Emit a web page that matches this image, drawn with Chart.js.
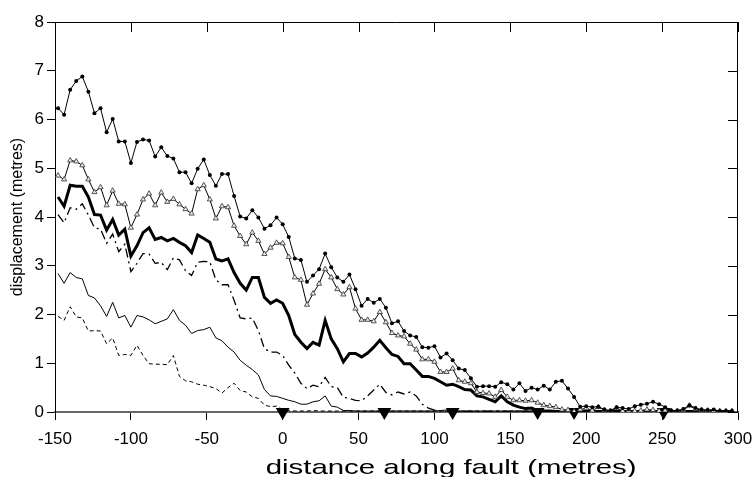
<!DOCTYPE html>
<html>
<head>
<meta charset="utf-8">
<script src="https://cdn.jsdelivr.net/npm/chart.js@4.4.1/dist/chart.umd.min.js"></script>
<style>
  html,body{margin:0;padding:0;background:#fff;}
  #c{display:block;}
</style>
</head>
<body>
<canvas id="c" width="752" height="477"></canvas>
<script>
// distance along fault (m), one sample every ~4 m
const distance = [
  -148,-144,-140,-136,-132,-128,-124,-120,-116,-112,-108,-104,-100,-96,-92,-88,-84,-80,-76,
  -72,-68,-64,-60,-56,-52,-48,-44,-40,-36,-32,-28,-24,-20,-16,-12,-8,-4,
  0,4,8,12,16,20,24,28,32,36,40,44,48,52,56,60,64,68,
  72,76,80,84,88,92,96,100,104,108,112,116,120,124,128,132,136,140,
  144,148,152,156,160,164,168,172,176,180,184,188,192,196,200,204,208,212,216,
  220,224,228,232,236,240,244,248,252,256,260,264,268,272,276,280,284,288,292,296
];

// displacement (m)
const dots = [
  6.23,6.10,6.61,6.79,6.88,6.57,6.13,6.23,5.74,6.01,5.55,5.55,5.11,5.54,5.59,5.57,5.24,5.43,5.25,
  5.20,4.92,4.92,4.69,4.99,5.18,4.86,4.64,4.88,4.88,4.43,4.01,3.97,4.14,3.99,3.76,3.83,3.99,
  3.85,3.59,3.15,3.12,2.67,2.80,2.93,3.25,2.97,2.76,2.67,2.82,2.52,2.18,2.32,2.24,2.32,2.14,
  1.82,1.86,1.66,1.57,1.54,1.33,1.32,1.35,1.12,1.20,1.06,0.89,0.86,0.69,0.52,0.53,0.53,0.52,
  0.61,0.57,0.46,0.59,0.43,0.50,0.46,0.54,0.46,0.62,0.64,0.48,0.31,0.11,0.12,0.10,0.11,0.05,0.03,
  0.10,0.08,0.06,0.12,0.15,0.17,0.21,0.16,0.10,0.03,0.03,0.06,0.14,0.08,0.05,0.04,0.05,0.02,0.02,0.02
];
const triangles = [
  4.85,4.77,5.16,5.14,5.06,4.77,4.51,4.61,4.24,4.54,4.27,4.26,3.78,4.05,4.36,4.48,4.24,4.50,4.31,
  4.37,4.26,4.16,4.07,4.57,4.65,4.36,3.97,4.22,4.20,3.82,3.61,3.44,3.68,3.51,3.24,3.37,3.47,
  3.46,3.18,2.76,2.71,2.20,2.43,2.63,2.93,2.76,2.52,2.41,2.56,2.12,1.89,1.89,1.86,2.05,1.84,
  1.62,1.57,1.55,1.40,1.28,1.08,1.08,1.03,0.82,0.82,0.89,0.65,0.62,0.59,0.41,0.39,0.38,0.31,
  0.45,0.31,0.24,0.24,0.23,0.24,0.19,0.14,0.12,0.10,0.05,0.04,0.01,0.05,0.08,0.03,0.10,0.04,0.02,
  0.08,0.02,0.03,0.02,0.03,0.05,0.04,0.02,0.03,0.02,0.02,0.04,0.13,0.06,0.04,0.03,0.02,0.02,0.02,0.02
];
const thick = [
  4.41,4.22,4.65,4.63,4.63,4.41,4.05,4.04,3.73,3.95,3.63,3.75,3.20,3.41,3.68,3.78,3.54,3.58,3.51,
  3.56,3.48,3.41,3.27,3.63,3.56,3.48,3.14,3.10,3.14,2.86,2.64,2.50,2.76,2.76,2.35,2.23,2.30,
  2.23,1.98,1.59,1.43,1.30,1.43,1.37,1.88,1.50,1.30,1.03,1.20,1.20,1.13,1.21,1.33,1.47,1.32,
  1.18,1.14,0.99,0.99,0.86,0.73,0.73,0.69,0.62,0.55,0.57,0.52,0.46,0.45,0.33,0.31,0.26,0.21,
  0.33,0.21,0.14,0.10,0.07,0.08,0.03,0.02,0.02,0.01,0.01,0.01,0.01,0.01,0.01,0.01,0.01,0.01,0.01,
  0.01,0.01,0.01,0.01,0.01,0.01,0.01,0.01,0.01,0.01,0.01,0.01,0.01,0.01,0.01,0.01,0.01,0.01,0.01,0.01
];
const dashDot = [
  4.05,3.88,4.19,4.16,4.27,4.04,3.78,3.75,3.46,3.65,3.29,3.44,2.88,3.05,3.25,3.24,3.05,3.07,2.92,
  3.16,3.12,2.90,2.80,3.07,3.09,3.08,2.71,2.61,2.61,2.29,1.93,1.91,1.93,1.67,1.30,1.23,1.23,
  1.16,0.96,0.80,0.59,0.48,0.55,0.52,0.71,0.52,0.50,0.30,0.28,0.24,0.23,0.33,0.45,0.57,0.40,
  0.35,0.41,0.37,0.41,0.33,0.16,0.08,0.04,0.02,0.02,0.01,0.01,0.01,0.01,0.01,0.01,0.01,0.01,
  0.01,0.01,0.01,0.01,0.01,0.01,0.01,0.01,0.01,0.01,0.01,0.01,0.01,0.01,0.01,0.01,0.01,0.01,0.01,
  0.01,0.01,0.01,0.01,0.01,0.01,0.01,0.01,0.01,0.01,0.01,0.01,0.01,0.01,0.01,0.01,0.01,0.01,0.01,0.01
];
const thin = [
  2.84,2.64,2.86,2.76,2.73,2.39,2.34,2.18,1.96,2.25,1.93,1.98,1.74,1.98,1.95,1.89,1.81,1.86,1.91,
  2.10,1.88,1.78,1.61,1.67,1.69,1.74,1.52,1.46,1.33,1.23,1.06,0.96,0.87,0.76,0.46,0.33,0.32,
  0.28,0.24,0.21,0.16,0.16,0.21,0.23,0.33,0.12,0.10,0.03,0.03,0.02,0.02,0.02,0.02,0.02,0.02,
  0.02,0.02,0.02,0.02,0.02,0.02,0.02,0.02,0.03,0.04,0.03,0.02,0.02,0.02,0.02,0.02,0.02,0.02,
  0.02,0.02,0.02,0.02,0.02,0.02,0.02,0.02,0.02,0.02,0.02,0.02,0.02,0.02,0.02,0.02,0.02,0.02,0.02,
  0.02,0.02,0.02,0.02,0.02,0.02,0.02,0.02,0.02,0.02,0.02,0.02,0.02,0.02,0.02,0.02,0.02,0.02,0.02,0.02
];
const dashed = [
  1.96,1.88,2.16,1.95,1.93,1.66,1.67,1.66,1.40,1.52,1.16,1.18,1.16,1.37,1.16,0.99,0.98,0.98,0.97,
  1.16,0.73,0.64,0.62,0.57,0.55,0.52,0.48,0.39,0.50,0.59,0.44,0.41,0.31,0.28,0.14,0.11,0.12,
  0.05,0.03,0.02,0.02,0.02,0.03,0.02,0.02,0.02,0.02,0.02,0.02,0.02,0.02,0.02,0.02,0.02,0.02,
  0.02,0.02,0.02,0.02,0.02,0.02,0.02,0.02,0.02,0.02,0.02,0.02,0.02,0.02,0.02,0.02,0.02,0.02,
  0.02,0.02,0.02,0.02,0.02,0.02,0.02,0.02,0.02,0.02,0.02,0.02,0.02,0.02,0.02,0.02,0.02,0.02,0.02,
  0.02,0.02,0.02,0.02,0.02,0.02,0.02,0.02,0.02,0.02,0.02,0.02,0.02,0.02,0.02,0.02,0.02,0.02,0.02,0.02
];

// survey markers along the fault (black triangles on the axis)
const markerDist = [0, 67, 112, 168, 192, 251];

const X_TICKS = [-150,-100,-50,0,50,100,150,200,250,300];
const Y_TICKS = [0,1,2,3,4,5,6,7,8];
const X_TITLE = 'distance along fault (metres)';
const FONT = '"Liberation Sans", Arial, Helvetica, sans-serif';

function pts(arr){ return distance.map((x,i)=>({x, y:arr[i]})); }

// box frame with inward ticks on top and right, plus the wide x title
const frame = {
  id:'frame',
  afterDatasetsDraw(chart){
    const {ctx, chartArea:a, scales:{x,y}} = chart;
    ctx.save();
    ctx.strokeStyle = '#000';
    ctx.lineWidth = 1;
    ctx.beginPath();
    ctx.moveTo(a.left, a.top+0.5); ctx.lineTo(a.right, a.top+0.5);
    ctx.moveTo(a.right-0.5, a.top); ctx.lineTo(a.right-0.5, a.bottom);
    X_TICKS.forEach(v=>{
      const px = Math.round(x.getPixelForValue(v))+0.5;
      ctx.moveTo(px, a.top); ctx.lineTo(px, a.top+10);
    });
    Y_TICKS.forEach(v=>{
      const py = Math.round(y.getPixelForValue(v))+0.5;
      ctx.moveTo(a.right, py); ctx.lineTo(a.right-10, py);
    });
    ctx.stroke();
    // x title, printed wide as in the original figure
    ctx.fillStyle = '#000';
    ctx.font = '21px ' + FONT;
    ctx.textAlign = 'center';
    ctx.textBaseline = 'alphabetic';
    ctx.translate(x.getPixelForValue(111), 474);
    ctx.scale(1.4, 1);
    ctx.fillText(X_TITLE, 0, 0);
    ctx.restore();
  }
};

new Chart(document.getElementById('c'), {
  type:'line',
  data:{
    datasets:[
      {data:pts(dots), borderColor:'#000', borderWidth:1, pointRadius:2, pointBackgroundColor:'#000', pointBorderWidth:0},
      {data:pts(triangles), borderColor:'#000', borderWidth:1, pointStyle:'triangle', pointRadius:3, pointBackgroundColor:'#e6e6e6', pointBorderColor:'#333', pointBorderWidth:0.8},
      {data:pts(thick), borderColor:'#000', borderWidth:3, pointRadius:0},
      {data:pts(dashDot), borderColor:'#000', borderWidth:1.3, pointRadius:0, borderDash:[9,4,2,4]},
      {data:pts(thin), borderColor:'#000', borderWidth:1, pointRadius:0},
      {data:pts(dashed), borderColor:'#000', borderWidth:1, pointRadius:0, borderDash:[4,3]},
      {data:markerDist.map(x=>({x, y:0})), showLine:false, pointStyle:'triangle', rotation:180,
       pointRadius:8, pointBackgroundColor:'#000', pointBorderColor:'#000', pointBorderWidth:0, clip:false}
    ]
  },
  options:{
    responsive:false,
    animation:false,
    devicePixelRatio:1,
    layout:{padding:{top:22, right:14, left:0, bottom:0}},
    elements:{line:{tension:0}},
    plugins:{legend:{display:false}, tooltip:{enabled:false}},
    scales:{
      x:{
        type:'linear', min:-150, max:300,
        afterFit(s){ s.height = 65; s.paddingLeft = 0; s.paddingRight = 0; },
        afterBuildTicks(s){ s.ticks = X_TICKS.map(v=>({value:v})); },
        ticks:{color:'#000', font:{family:FONT, size:17}, padding:9, maxRotation:0},
        grid:{drawOnChartArea:false, drawTicks:true, tickLength:8, color:'#000'},
        border:{display:true, color:'#666', width:2},
        title:{display:false}
      },
      y:{
        min:0, max:8,
        afterFit(s){ s.width = 55; },
        afterBuildTicks(s){ s.ticks = Y_TICKS.map(v=>({value:v})); },
        ticks:{color:'#000', font:{family:FONT, size:17}, padding:3},
        grid:{drawOnChartArea:false, drawTicks:true, tickLength:8, color:'#000'},
        border:{display:true, color:'#000', width:1},
        title:{display:true, text:'displacement (metres)', color:'#000',
               font:{family:FONT, size:16, lineHeight:1}, padding:{top:10, bottom:0}}
      }
    }
  },
  plugins:[frame]
});
</script>
</body>
</html>
